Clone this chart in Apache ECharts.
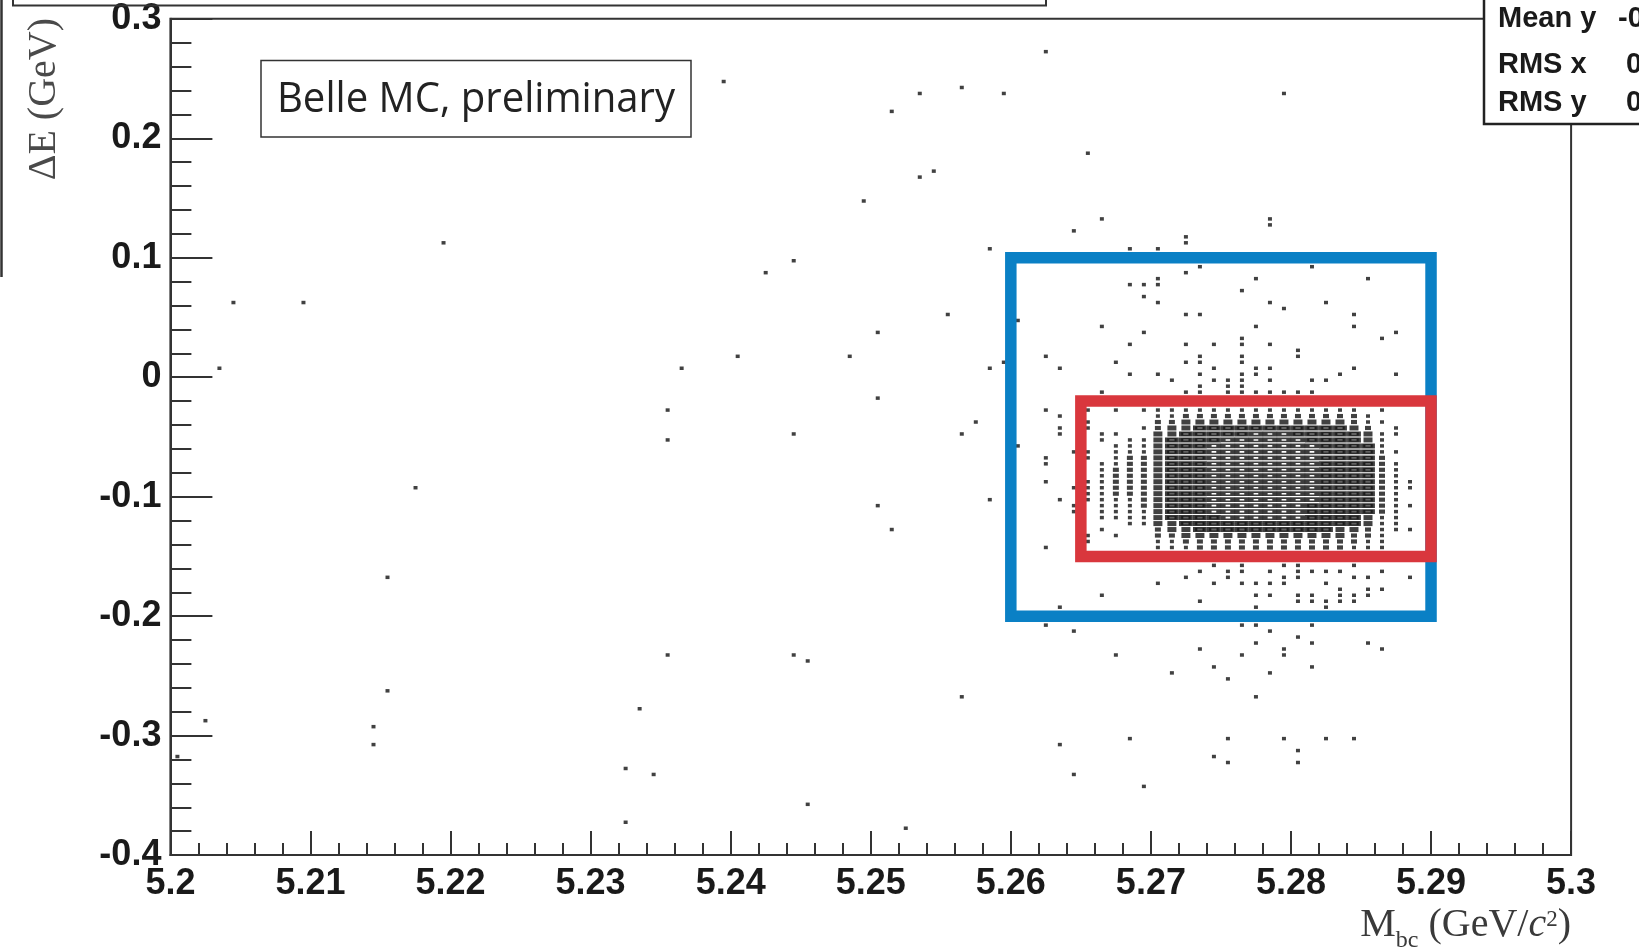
<!DOCTYPE html>
<html><head><meta charset="utf-8">
<script src="https://cdn.jsdelivr.net/npm/echarts@6/dist/echarts.min.js"></script>
<style>html,body{margin:0;padding:0;background:#fff}#c{width:1639px;height:949px}</style>
</head><body><div id="c"></div>
<script>
// ---------------- data ----------------
const xTickLabels = ['5.2','5.21','5.22','5.23','5.24','5.25','5.26','5.27','5.28','5.29','5.3'];
const yTickLabels = ['-0.4','-0.3','-0.2','-0.1','0','0.1','0.2','0.3'];

// isolated events [Mbc, dE]
const sparsePoints = [
 [5.2045,0.0625],[5.2095,0.0625],[5.2195,0.1125],[5.2035,0.0075],[5.2175,-0.0925],[5.2155,-0.1675],
 [5.2155,-0.2625],[5.2145,-0.2925],[5.2145,-0.3075],[5.2025,-0.2875],[5.2005,-0.3175],
 [5.2355,-0.2325],[5.2335,-0.2775],[5.2325,-0.3275],[5.2345,-0.3325],[5.2325,-0.3725],
 [5.2365,0.0075],[5.2355,-0.0275],[5.2355,-0.0525],
 [5.2395,0.2475],[5.2535,0.2375],[5.2565,0.2425],[5.2595,0.2375],[5.2515,0.2225],[5.2625,0.2725],
 [5.2655,0.1875],[5.2545,0.1725],[5.2535,0.1675],[5.2495,0.1475],[5.2665,0.1325],[5.2645,0.1225],
 [5.2585,0.1075],[5.2685,0.1075],[5.2705,0.1075],[5.2445,0.0975],[5.2425,0.0875],
 [5.2405,0.0175],[5.2485,0.0175],[5.2505,0.0375],[5.2555,0.0525],
 [5.2445,-0.0475],[5.2505,-0.0175],[5.2565,-0.0475],[5.2575,-0.0375],
 [5.2505,-0.1075],[5.2515,-0.1275],[5.2585,-0.1025],
 [5.2445,-0.2325],[5.2455,-0.2375],[5.2455,-0.3575],[5.2525,-0.3775],[5.2565,-0.2675],
 [5.2795,0.2375],[5.2785,0.1325],[5.2785,0.1275],[5.2725,0.1175],[5.2725,0.1125],[5.2755,0.0975],
 [5.2735,0.0925],[5.2815,0.0925],[5.2725,0.0875],[5.2705,0.0825],[5.2775,0.0825],[5.2855,0.0825],
 [5.2685,0.0775],[5.2695,0.0775],[5.2705,0.0775],[5.2765,0.0725],[5.2695,0.0675],
 [5.2705,0.0625],[5.2785,0.0625],[5.2825,0.0625],[5.2795,0.0575],
 [5.2725,0.0525],[5.2735,0.0525],[5.2845,0.0525],[5.2605,0.0475],
 [5.2665,0.0425],[5.2775,0.0425],[5.2845,0.0425],[5.2695,0.0375],[5.2875,0.0375],
 [5.2765,0.0325],[5.2865,0.0325],
 [5.2685,0.0275],[5.2725,0.0275],[5.2745,0.0275],[5.2765,0.0275],[5.2785,0.0275],[5.2805,0.0225],
 [5.2625,0.0175],[5.2735,0.0175],[5.2765,0.0175],[5.2805,0.0175],
 [5.2595,0.0125],[5.2675,0.0125],[5.2725,0.0125],[5.2735,0.0125],[5.2765,0.0125],
 [5.2585,0.0075],[5.2635,0.0075],[5.2745,0.0075],[5.2775,0.0075],[5.2785,0.0075],[5.2845,0.0075],
 [5.2685,0.0025],[5.2705,0.0025],[5.2735,0.0025],[5.2765,0.0025],[5.2775,0.0025],[5.2835,0.0025],[5.2875,0.0025],
 [5.2715,-0.0025],[5.2745,-0.0025],[5.2755,-0.0025],[5.2765,-0.0025],[5.2785,-0.0025],[5.2815,-0.0025],[5.2825,-0.0025],
 [5.2735,-0.0075],[5.2755,-0.0075],[5.2765,-0.0075],
 [5.2665,-0.0125],[5.2725,-0.0125],[5.2735,-0.0125],[5.2755,-0.0125],[5.2765,-0.0125],[5.2775,-0.0125],
 [5.2785,-0.0125],[5.2795,-0.0125],[5.2805,-0.0125],[5.2815,-0.0125],
 [5.2625,-0.0275],[5.2625,-0.0675],[5.2625,-0.0725],[5.2625,-0.0875],[5.2625,-0.1425],
 [5.2635,-0.0325],[5.2635,-0.0425],[5.2635,-0.0475],[5.2635,-0.1025],
 [5.2645,-0.0625],[5.2645,-0.0925],[5.2645,-0.1075],[5.2645,-0.1125],[5.2605,-0.0575],
 [5.2665,-0.1525],[5.2745,-0.1525],[5.2755,-0.1525],[5.2765,-0.1525],[5.2775,-0.1525],[5.2785,-0.1525],
 [5.2795,-0.1525],[5.2805,-0.1525],[5.2815,-0.1525],[5.2825,-0.1525],[5.2835,-0.1525],[5.2855,-0.1525],
 [5.2865,-0.1525],[5.2875,-0.1525],[5.2885,-0.1525],
 [5.2745,-0.1575],[5.2765,-0.1575],[5.2795,-0.1575],[5.2805,-0.1575],[5.2845,-0.1575],
 [5.2735,-0.1625],[5.2755,-0.1625],[5.2765,-0.1625],[5.2785,-0.1625],[5.2805,-0.1625],[5.2815,-0.1625],
 [5.2825,-0.1625],[5.2835,-0.1625],[5.2865,-0.1625],
 [5.2725,-0.1675],[5.2755,-0.1675],[5.2795,-0.1675],[5.2805,-0.1675],[5.2845,-0.1675],[5.2855,-0.1675],[5.2885,-0.1675],
 [5.2705,-0.1725],[5.2745,-0.1725],[5.2765,-0.1725],[5.2775,-0.1725],[5.2785,-0.1725],[5.2795,-0.1725],[5.2825,-0.1725],
 [5.2835,-0.1775],[5.2855,-0.1775],[5.2865,-0.1775],
 [5.2665,-0.1825],[5.2775,-0.1825],[5.2785,-0.1825],[5.2805,-0.1825],[5.2815,-0.1825],[5.2835,-0.1825],
 [5.2845,-0.1825],[5.2855,-0.1825],
 [5.2735,-0.1875],[5.2805,-0.1875],[5.2815,-0.1875],[5.2825,-0.1875],[5.2835,-0.1875],[5.2845,-0.1875],
 [5.2635,-0.1925],[5.2775,-0.1925],[5.2825,-0.1925],
 [5.2755,-0.2025],[5.2785,-0.2025],[5.2805,-0.2025],[5.2835,-0.2025],
 [5.2625,-0.2075],[5.2765,-0.2075],[5.2775,-0.2075],[5.2815,-0.2075],
 [5.2645,-0.2125],[5.2785,-0.2125],[5.2805,-0.2175],
 [5.2775,-0.2225],[5.2815,-0.2225],[5.2855,-0.2225],
 [5.2735,-0.2275],[5.2795,-0.2275],[5.2865,-0.2275],
 [5.2675,-0.2325],[5.2765,-0.2325],[5.2795,-0.2325],
 [5.2745,-0.2425],[5.2815,-0.2425],[5.2715,-0.2475],[5.2785,-0.2475],[5.2755,-0.2525],[5.2775,-0.2675],
 [5.2685,-0.3025],[5.2755,-0.3025],[5.2795,-0.3025],[5.2825,-0.3025],[5.2845,-0.3025],
 [5.2635,-0.3075],[5.2805,-0.3125],[5.2745,-0.3175],[5.2755,-0.3225],[5.2805,-0.3225],
 [5.2645,-0.3325],[5.2695,-0.3425]
];

// dense signal core: Mbc bin centres, dE bin centres, occupancy level per bin (0-5)
const coreCols = [5.2655,5.2665,5.2675,5.2685,5.2695,5.2705,5.2715,5.2725,5.2735,5.2745,5.2755,5.2765,
                  5.2775,5.2785,5.2795,5.2805,5.2815,5.2825,5.2835,5.2845,5.2855,5.2865,5.2875,5.2885];
const coreRows = [-0.0275,-0.0325,-0.0375,-0.0425,-0.0475,-0.0525,-0.0575,-0.0625,-0.0675,-0.0725,
                  -0.0775,-0.0825,-0.0875,-0.0925,-0.0975,-0.1025,-0.1075,-0.1125,-0.1175,-0.1225,
                  -0.1275,-0.1325,-0.1375,-0.1425,-0.1475];
const coreLevels = [
 '1011000110001111000001100',
 '0000110001111111111010000',
 '1000101111222221111001000',
 '0000011122222221111100000',
 '1001011122222222211100000',
 '1122333333333333333322110',
 '1123344444444444444332110',
 '1233444444444444444433210',
 '1234444444444444444443221',
 '1234445555555555554443221',
 '1234455555555555555443221',
 '1234455555555555555443221',
 '1234555555555555555443221',
 '1234555555555555555443221',
 '1234555555555555555443221',
 '1234455555555555555443221',
 '1234445555555555444443221',
 '1234444444444444444443221',
 '1234444444444444444433221',
 '1223444444444444444432211',
 '0112334444444444443322111',
 '1010111122222222221111110',
 '0001100101111111111110000',
 '0000000000001100100010000'
];

// selection boxes [Mbc range], [dE range]
const blueBoxM = [5.26, 5.29], blueBoxE = [-0.2, 0.1];
const redBoxM = [5.265, 5.29], redBoxE = [-0.15, -0.02];

// stats box
const statNames = ['Mean y', 'RMS x', 'RMS y'];
const statValues = ['-0.0831', '0.00512', '0.0503'];

// ---------------- build ----------------
const byLevel = {1:[],2:[],3:[],4:[],5:[]};
coreCols.forEach((m, ci) => {
  const s = coreLevels[ci];
  coreRows.forEach((e, ri) => {
    const lv = +(s[ri] || 0);
    if (lv > 0) byLevel[lv].push([m, e]);
  });
});
const dot = '#111111';
const levelStyle = {
  1: {size:[4,3.5], item:{color:dot}},
  2: {size:[6,4.2], item:{color:dot}},
  3: {size:[9,5], item:{color:'#111'}},
  4: {size:[9.5,3.4], item:{color:'#3a3a3a', borderColor:'#0d0d0d', borderWidth:2.6}},
  5: {size:[9.5,3.2], item:{color:'#ffffff', borderColor:'#0d0d0d', borderWidth:2.8}}
};
function boxLine(M, E){
  return [[M[0],E[1]],[M[1],E[1]],[M[1],E[0]],[M[0],E[0]],[M[0],E[1]],[M[1],E[1]]];
}
const series = [];
series.push({type:'scatter', data:sparsePoints, symbol:'rect', symbolSize:[4,3.5],
  itemStyle:{color:dot}, z:2, silent:true});
[1,2,3,4,5].forEach(l => {
  series.push({type:'scatter', data:byLevel[l], symbol:'rect', symbolSize:levelStyle[l].size,
    itemStyle:levelStyle[l].item, z:2+l/10, silent:true});
});
series.push({type:'line', data:boxLine(blueBoxM, blueBoxE), symbol:'none', z:5, silent:true,
  lineStyle:{color:'#0a80c5', width:11.5, cap:'butt', join:'miter'}});
series.push({type:'line', data:boxLine(redBoxM, redBoxE), symbol:'none', z:6, silent:true,
  lineStyle:{color:'#d9373d', width:11.5, cap:'butt', join:'miter'}});

// x axis title pieces
const mctx = document.createElement('canvas').getContext('2d');
const serif = '"Liberation Serif", "DejaVu Serif", serif';
const xTitle = [
  {t:'M', f:'40px '+serif, dy:0},
  {t:'bc', f:'24px '+serif, dy:16},
  {t:' (GeV/', f:'40px '+serif, dy:0},
  {t:'c', f:'italic 40px '+serif, dy:0},
  {t:'2', f:'23px '+serif, dy:-5.5},
  {t:')', f:'40px '+serif, dy:0}
];
let total = 0;
xTitle.forEach(p => { mctx.font = p.f; p.w = mctx.measureText(p.t).width; total += p.w; });
let cx = 1571 - total;
const graphic = [];
xTitle.forEach(p => {
  graphic.push({type:'text', x:cx, y:925 + p.dy, z:50,
    style:{text:p.t, font:p.f, fill:'#3a3a3a', align:'left', verticalAlign:'middle'}});
  cx += p.w;
});
graphic.push({type:'text', x:44, y:18, rotation:Math.PI/2, z:50,
  style:{text:'\u0394E (GeV)', font:'40px '+serif, fill:'#4a4a4a', align:'right', verticalAlign:'middle'}});
// frame decorations
graphic.push({type:'line', z:50, shape:{x1:1.5,y1:-2,x2:1.5,y2:277}, style:{stroke:'#333', lineWidth:2.5}});
graphic.push({type:'rect', z:50, shape:{x:13,y:-20,width:1033,height:25.5}, style:{fill:null, stroke:'#333', lineWidth:2}});
graphic.push({type:'rect', z:50, shape:{x:1484,y:-20,width:300,height:144}, style:{fill:'#fff', stroke:'#222', lineWidth:2.5}});
const statY = [18.5, 64.5, 103];
const statValX = [1618, 1626, 1626];
statNames.forEach((n,i) => {
  graphic.push({type:'text', z:51, x:1498, y:statY[i],
    style:{text:n, font:'bold 29px "Liberation Sans", Arial, sans-serif', fill:'#1a1a1a', verticalAlign:'middle'}});
  graphic.push({type:'text', z:51, x:statValX[i], y:statY[i],
    style:{text:statValues[i], font:'bold 29px "Liberation Sans", Arial, sans-serif', fill:'#1a1a1a', verticalAlign:'middle'}});
});
graphic.push({type:'rect', z:50, shape:{x:261,y:60.5,width:430,height:76.5}, style:{fill:'#fff', stroke:'#333', lineWidth:1.5}});
graphic.push({type:'text', z:51, x:476, y:100, scaleX:0.955,
  style:{text:'Belle MC, preliminary', font:'42px "Open Sans", "Noto Sans", sans-serif', fill:'#222', align:'center', verticalAlign:'middle'}});

const tickFont = {fontSize:36, fontWeight:'bold', fontFamily:'"Liberation Sans", Arial, sans-serif', color:'#1a1a1a'};
const axLine = {color:'#333', width:2};
const chart = echarts.init(document.getElementById('c'));
chart.setOption({
  animation:false,
  backgroundColor:'#fff',
  grid:{left:170.4, right:67.9, top:18.8, bottom:93.9, show:true, borderColor:'#333', borderWidth:2},
  xAxis:{type:'value', min:5.2, max:5.3, interval:0.01,
    axisLine:{show:true, onZero:false, lineStyle:axLine},
    axisTick:{show:true, inside:true, length:24, lineStyle:axLine},
    minorTick:{show:true, splitNumber:5, length:12, lineStyle:axLine},
    splitLine:{show:false},
    axisLabel:Object.assign({margin:11, formatter:v => xTickLabels[Math.round((v-5.2)/0.01)]}, tickFont)},
  yAxis:{type:'value', min:-0.4, max:0.3, interval:0.1,
    axisLine:{show:true, onZero:false, lineStyle:axLine},
    axisTick:{show:true, inside:true, length:42, lineStyle:axLine},
    minorTick:{show:true, splitNumber:5, length:21, lineStyle:axLine},
    splitLine:{show:false},
    axisLabel:Object.assign({margin:9, padding:[5,0,0,0], formatter:v => yTickLabels[Math.round((v+0.4)/0.1)]}, tickFont)},
  series:series,
  graphic:graphic
});
</script></body></html>
